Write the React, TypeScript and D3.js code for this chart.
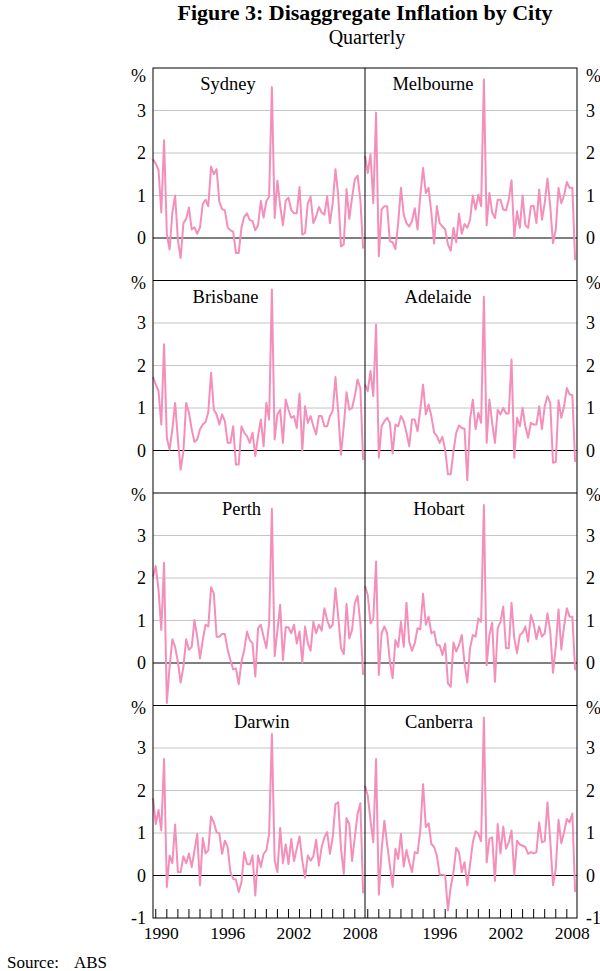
import React from "react";
import * as d3 from "d3";

// ---- data ----
const START_QUARTER = 1989.75; // Q4 1989
const cities = ["Sydney", "Melbourne", "Brisbane", "Adelaide", "Perth", "Hobart", "Darwin", "Canberra"];

const sydney = [1.85, 1.75, 1.6, 0.6, 2.3, 0.1, -0.27, 0.6, 1.0, -0.05,
  -0.47, 0.35, 0.45, 0.72, 0.2, 0.25, 0.1, 0.25, 0.8, 0.9,
  0.75, 1.68, 1.5, 1.62, 0.85, 0.68, 0.65, 0.25, 0.18, 0.15,
  -0.35, -0.35, 0.25, 0.5, 0.58, 0.42, 0.4, 0.18, 0.3, 0.87,
  0.48, 0.87, 0.97, 3.55, 0.47, 1.35, 0.75, 0.3, 0.88, 0.95,
  0.66, 0.58, 0.58, 1.2, 0.08, 0.12, 0.82, 0.97, 0.35, 0.5,
  0.73, 0.6, 0.55, 0.98, 0.35, 0.82, 1.62, 1.0, -0.2, -0.15,
  1.15, 0.45, 0.95, 1.38, 1.47, 0.9, -0.25];
const melbourne = [1.93, 1.53, 1.97, 0.82, 2.95, -0.43, 0.67, 0.75, 0.75, -0.08,
  -0.1, -0.26, 0.35, 1.18, 0.55, 0.35, 0.27, 0.4, 0.7, 0.2,
  1.0, 1.65, 1.06, 1.18, 0.6, -0.13, 0.75, 0.35, 0.27, 0.2,
  -0.15, -0.3, 0.24, -0.1, 0.57, 0.1, 0.33, 0.24, 0.43, 1.0,
  0.67, 1.02, 0.75, 3.73, 0.3, 1.06, 0.6, 0.47, 0.9, 0.9,
  0.67, 0.65, 0.9, 1.36, 0.02, 0.63, 0.24, 1.0, 0.3, 0.24,
  0.75, 0.76, 0.35, 1.14, 0.43, 0.82, 1.4, 0.75, -0.12, 0.2,
  1.18, 0.82, 1.0, 1.32, 1.18, 1.18, -0.52];
const brisbane = [1.73, 1.55, 1.4, 0.61, 2.5, 0.3, 0.02, 0.5, 1.12, 0.26,
  -0.45, -0.02, 1.12, 0.89, 0.5, 0.2, 0.26, 0.5, 0.61, 0.67,
  0.9, 1.83, 0.96, 0.85, 0.61, 0.85, 0.69, 0.18, 0.18, 0.57,
  -0.33, -0.33, 0.57, 0.42, 0.34, 0.18, 0.42, -0.13, 0.34, 0.73,
  0.1, 1.12, 0.73, 3.79, 0.26, 0.85, 0.96, 0.18, 1.2, 0.96,
  0.77, 0.81, 0.53, 1.34, 0.0, 1.04, 0.65, 0.81, 0.57, 0.38,
  0.81, 0.81, 0.57, 0.57, 0.81, 0.93, 1.73, 0.89, -0.1, 0.57,
  1.37, 0.96, 1.0, 1.28, 1.67, 1.47, -0.22];
const adelaide = [1.55, 1.4, 1.87, 1.28, 2.96, -0.17, 0.57, 0.69, 0.77, 0.65,
  -0.07, 0.61, 0.57, 0.81, 0.69, 0.42, 0.1, 0.73, 0.73, 0.45,
  0.96, 1.55, 0.85, 1.08, 0.81, 0.42, 0.34, 0.18, 0.32, 0.02,
  -0.56, -0.56, -0.02, 0.42, 0.59, 0.53, 0.51, -0.7, 0.73, 1.2,
  0.5, 0.89, 0.65, 3.62, 0.18, 1.2, 0.65, 0.18, 0.96, 0.85,
  1.0, 0.87, 0.87, 2.14, -0.17, 0.77, 0.57, 1.0, 0.57, 0.3,
  0.65, 0.61, 0.61, 1.04, 0.5, 1.04, 1.28, 1.12, -0.29, -0.27,
  1.18, 0.77, 1.04, 1.47, 1.32, 1.3, -0.27];
const perth = [2.03, 2.28, 1.72, 0.78, 2.36, -0.94, -0.09, 0.56, 0.38, 0.03,
  -0.46, -0.09, 0.56, 0.31, 0.38, 1.01, 0.62, 0.11, 0.54, 0.9,
  0.86, 1.78, 1.64, 0.62, 0.62, 0.68, 0.68, 0.31, 0.07, -0.15,
  -0.13, -0.5, 0.03, 0.31, 0.74, 0.54, 0.46, -0.32, 0.82, 0.9,
  0.62, 0.35, 0.93, 3.63, 0.16, 0.76, 1.37, 0.07, 0.84, 0.84,
  0.7, 0.9, 0.46, 0.74, 0.01, 0.86, 0.46, 0.29, 0.97, 0.7,
  0.9, 0.76, 1.29, 1.01, 0.82, 0.9, 1.76, 1.09, 0.35, 0.21,
  1.39, 0.58, 0.78, 1.41, 1.58, 0.93, -0.28];
const hobart = [1.81, 1.6, 0.93, 1.05, 2.39, -0.28, 0.7, 0.86, 0.7, 0.03,
  -0.36, 0.54, 0.38, 0.97, 0.38, 1.42, 0.5, 0.29, 0.46, 0.82,
  0.79, 1.63, 0.9, 1.09, 0.7, 0.74, 0.42, 0.42, 0.19, 0.46,
  -0.48, -0.56, 0.48, 0.27, 0.42, 0.66, -0.01, -0.46, 0.35, 0.66,
  0.62, 1.05, 0.97, 3.72, -0.05, 0.66, 0.95, -0.44, 0.82, 0.97,
  1.33, 0.35, 0.35, 1.42, 0.58, 0.23, 0.66, 0.71, 0.86, 0.5,
  1.13, 0.93, 0.56, 0.86, 0.62, 0.7, 1.17, 0.74, -0.23, 0.38,
  1.26, 0.32, 0.86, 1.29, 1.09, 1.09, -0.17];
const darwin = [1.82, 1.21, 1.54, 1.06, 2.74, -0.27, 0.47, 0.29, 1.2, 0.08,
  0.08, 0.45, 0.29, 0.52, 0.2, 0.59, 0.98, -0.23, 0.88, 0.52,
  0.59, 1.39, 1.25, 1.02, 0.99, 0.51, 0.82, 0.67, 0.08, -0.08,
  -0.1, -0.39, -0.16, 0.55, 0.27, 0.26, 0.47, -0.47, 0.47, 0.2,
  0.51, 0.59, 0.98, 3.33, 0.35, 0.08, 1.12, 0.29, 0.73, 0.27,
  0.86, 0.34, 0.63, 0.92, 0.35, -0.05, 0.47, 0.35, 0.45, 0.84,
  0.23, 0.67, 0.9, 1.02, 0.51, 0.9, 1.68, 1.72, 0.63, 0.04,
  1.35, 1.21, 0.34, 0.9, 1.45, 1.7, -0.42];
const canberra = [2.11, 1.88, 1.29, 0.78, 2.74, -0.45, 0.59, 1.29, 0.74, 0.23,
  -0.27, 0.63, 0.39, 0.98, 0.21, 0.6, 0.31, 0.08, 0.55, 0.52,
  1.06, 2.15, 1.14, 1.23, 0.74, 0.67, 0.47, 0.02, 0.02, 0.0,
  -0.82, -0.27, 0.08, 0.65, 0.55, 0.08, 0.31, -0.23, 0.26, 0.78,
  1.04, 0.98, 0.81, 3.72, 0.31, 0.86, 0.9, -0.13, 1.21, 0.52,
  1.15, 0.63, 0.78, 1.06, 0.02, 0.82, 0.73, 0.7, 0.67, 0.51,
  0.55, 0.52, 0.55, 1.25, 0.78, 0.81, 1.72, 0.82, -0.23, 0.16,
  1.31, 0.76, 1.02, 1.33, 1.25, 1.46, -0.39];

const seriesList = [sydney, melbourne, brisbane, adelaide, perth, hobart, darwin, canberra];
const yTickValues = [0, 1, 2, 3];
const yearTickValues = d3.range(1990, 2009);
const yearLabelsLeft = [1990, 1996, 2002, 2008];
const yearLabelsRight = [1996, 2002, 2008];

// ---- layout ----
const W = 600, H = 971;
const LEFT = 153, MID = 365, RIGHT = 577;
const TOP = 68, PANEL_H = 212.5;
const labelCenters = [228, 433, 225.5, 438, 241.5, 439, 261.7, 439];
const FONT = "'Liberation Serif', 'Times New Roman', serif";
const PINK = "#f48fbb";
const GRID = "#c4c4c4";

export default function App() {
  const quarters = seriesList[0].map((_, i) => START_QUARTER + i * 0.25);
  const panels = cities.map((name, k) => {
    const row = Math.floor(k / 2), col = k % 2;
    const x0 = col === 0 ? LEFT : MID, x1 = col === 0 ? MID : RIGHT;
    const y0 = TOP + row * PANEL_H, y1 = y0 + PANEL_H;
    const x = d3.scaleLinear().domain([1989.75, 2008.92]).range([x0, x1]);
    const y = d3.scaleLinear().domain([-1, 4]).range([y1, y0]);
    const line = d3.line<number>().x((_, i) => x(quarters[i])).y(d => y(d));
    return { name, k, row, col, x0, x1, y0, y1, x, y, path: line(seriesList[k]) || "" };
  });
  const bottom = TOP + 4 * PANEL_H;

  return (
    <svg width={W} height={H} style={{ position: "absolute", left: 0, top: 0 }} fontFamily={FONT}>
      <rect width={W} height={H} fill="#fff" />
      <text x={365} y={20} textAnchor="middle" fontSize={22} fontWeight="bold">Figure 3: Disaggregate Inflation by City</text>
      <text x={367} y={44} textAnchor="middle" fontSize={20}>Quarterly</text>

      {panels.map(p => (
        <g key={p.name}>
          {[1, 2, 3].map(v => (
            <line key={v} x1={p.x0} x2={p.x1} y1={p.y(v)} y2={p.y(v)} stroke={GRID} strokeWidth={1} />
          ))}
          <line x1={p.x0} x2={p.x1} y1={p.y(0)} y2={p.y(0)} stroke="#000" strokeWidth={1} />
          <path d={p.path} fill="none" stroke={PINK} strokeWidth={2} strokeLinejoin="round" />
          <text x={labelCenters[p.k]} y={p.y0 + 22} textAnchor="middle" fontSize={18.5}>{p.name}</text>
        </g>
      ))}

      {/* frames */}
      <rect x={LEFT} y={TOP} width={RIGHT - LEFT} height={bottom - TOP} fill="none" stroke="#000" strokeWidth={1} />
      <line x1={MID} x2={MID} y1={TOP} y2={bottom} stroke="#000" strokeWidth={1} />
      {[1, 2, 3].map(r => (
        <line key={r} x1={LEFT} x2={RIGHT} y1={TOP + r * PANEL_H} y2={TOP + r * PANEL_H} stroke="#000" strokeWidth={1} />
      ))}

      {/* y axis labels */}
      {[0, 1, 2, 3].map(r => {
        const p = panels[r * 2];
        const pctY = r === 0 ? p.y0 + 8 : p.y0 + 2;
        return (
          <g key={r} fontSize={18}>
            {yTickValues.map(v => (
              <g key={v}>
                <text x={146} y={p.y(v)} dy="0.35em" textAnchor="end">{v}</text>
                <text x={586} y={p.y(v)} dy="0.35em" textAnchor="start">{v}</text>
              </g>
            ))}
            <text x={146} y={pctY} dy="0.35em" textAnchor="end">%</text>
            <text x={586} y={pctY} dy="0.35em" textAnchor="start">%</text>
            {r === 3 && (
              <g>
                <text x={146} y={p.y(-1)} dy="0.35em" textAnchor="end">-1</text>
                <text x={586} y={p.y(-1)} dy="0.35em" textAnchor="start">-1</text>
              </g>
            )}
          </g>
        );
      })}

      {/* x axis ticks & labels */}
      {[panels[6], panels[7]].map(p => (
        <g key={p.name + "x"}>
          {yearTickValues.map(yr => (
            <line key={yr} x1={p.x(yr)} x2={p.x(yr)} y1={bottom} y2={bottom - 9} stroke="#000" strokeWidth={1} />
          ))}
          {(p.col === 0 ? yearLabelsLeft : yearLabelsRight).map(yr => (
            <text key={yr} x={p.x(yr + 0.5)} y={939} textAnchor="middle" fontSize={17.5}>{yr}</text>
          ))}
        </g>
      ))}

      <text x={7} y={968} fontSize={17}>Source:</text>
      <text x={74} y={968} fontSize={17}>ABS</text>
    </svg>
  );
}
